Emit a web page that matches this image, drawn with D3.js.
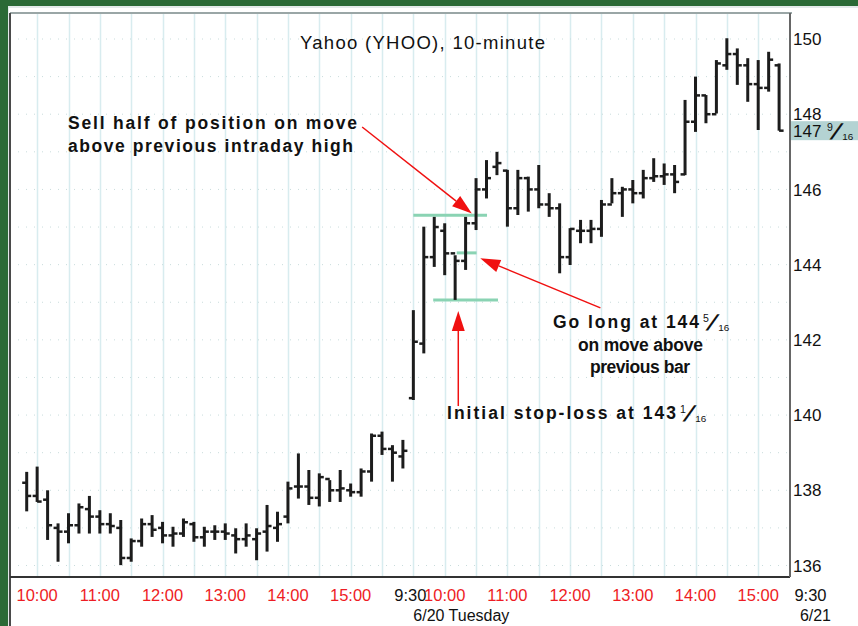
<!DOCTYPE html>
<html>
<head>
<meta charset="utf-8">
<title>Yahoo (YHOO), 10-minute</title>
<style>
  html, body {margin:0;padding:0;overflow:hidden;background:#fff;}
  svg {display:block;font-family:"Liberation Sans", Arial, sans-serif;}
</style>
</head>
<body>
<div id="chart"></div>
<script src="https://cdnjs.cloudflare.com/ajax/libs/d3/7.8.5/d3.min.js"></script>
<script>
// 10-minute bars. index 0 = 6/20 9:50, index 37 = 6/21 9:30, index 72 = 6/21 15:20
var opens = [
  138.2, 137.85, 137.75, 137.0, 136.9, 137.07, 137.5, 137.3, 137.1, 137.0,
  136.2, 136.65, 137.1, 137.0, 136.8, 136.85, 137.1, 136.75, 136.9, 136.9,
  136.8, 136.7, 136.7, 136.9, 137.0, 137.3, 138.1, 138.1, 137.8, 138.3,
  138.0, 138.0, 137.95, 138.5, 139.45, 139.1, 138.9,
  140.45, 141.9, 144.2, 144.9, 144.3, 144.1, 145.1, 146.0, 146.6, 146.5,
  145.5, 146.3, 146.0, 145.6, 145.5, 144.2, 144.9, 144.9, 144.95, 145.6,
  145.9, 146.0, 145.9, 146.3, 146.35, 146.4, 146.4, 147.8, 148.5, 148.0,
  149.3, 149.6, 149.3, 148.8, 148.7, 149.3
];
var highs = [
  138.49, 138.63, 138.0, 137.12, 137.39, 137.65, 137.85, 137.47, 137.39, 137.21,
  136.72, 137.25, 137.34, 137.16, 137.03, 137.25, 137.16, 137.03, 137.07, 137.12,
  136.99, 137.12, 136.99, 137.61, 137.43, 138.23, 138.98, 138.54, 138.45, 138.27,
  138.54, 138.18, 138.58, 139.51, 139.56, 139.2, 139.34,
  142.79, 145.01, 145.27, 145.1, 144.25, 145.27, 146.3, 146.78, 147.0, 146.52,
  146.52, 146.34, 146.65, 145.9, 145.63, 144.97, 145.19, 145.19, 145.72, 146.3,
  146.07, 146.25, 146.52, 146.83, 146.69, 146.65, 148.38, 149.0, 148.51, 149.44,
  150.02, 149.75, 149.49, 149.44, 149.66, 149.35
];
var lows = [
  137.44, 137.69, 136.68, 136.1, 136.59, 136.85, 136.85, 136.85, 136.85, 136.01,
  136.1, 136.5, 136.76, 136.59, 136.5, 136.76, 136.63, 136.5, 136.68, 136.68,
  136.32, 136.5, 136.14, 136.37, 136.63, 137.12, 137.78, 137.61, 137.57, 137.69,
  137.69, 137.83, 137.83, 138.23, 138.94, 138.23, 138.58,
  140.4, 141.64, 143.94, 143.72, 143.0625, 143.86, 144.92, 145.76, 146.38, 145.01,
  145.32, 145.41, 145.5, 145.27, 143.77, 143.99, 144.57, 144.57, 144.74, 145.63,
  145.27, 145.63, 145.76, 146.2, 146.12, 145.9, 146.38, 147.53, 147.76, 148.02,
  149.18, 148.78, 148.33, 147.58, 148.6, 147.5625
];
var closes = [
  137.85, 137.7, 137.07, 136.9, 137.07, 137.55, 137.3, 137.1, 137.05, 136.2,
  136.65, 137.1, 136.95, 136.8, 136.85, 137.15, 136.75, 136.9, 136.9, 136.85,
  136.7, 136.8, 136.85, 137.05, 137.1, 138.05, 138.1, 137.8, 138.35, 138.0,
  138.05, 137.95, 138.5, 139.45, 139.1, 139.0, 139.05,
  141.95, 144.2, 145.0, 144.3, 144.1, 145.1, 146.0, 146.3, 146.7, 145.5,
  146.3, 146.0, 145.6, 145.5, 144.2, 144.95, 144.9, 144.95, 145.6, 145.9,
  146.0, 145.9, 146.3, 146.35, 146.4, 146.2, 147.8, 148.5, 148.0, 149.35,
  149.6, 149.3, 148.8, 148.7, 149.45, 147.5625
];

var timeIdx    = [1, 7, 13, 19, 25, 31, 37, 40, 46, 52, 58, 64, 70, 75];
var timeLabels = ["10:00", "11:00", "12:00", "13:00", "14:00", "15:00", "9:30",
                  "10:00", "11:00", "12:00", "13:00", "14:00", "15:00", "9:30"];
var sessionIdx = [37, 75];
var dateLabels = ["6/20 Tuesday", "6/21"];

var priceTicks = [136, 138, 140, 142, 144, 146, 148, 150];
var lastPrice = 147.5625;

// trade levels: sell-half trigger, entry, initial stop
var levelValues = [145.3125, 144.3125, 143.0625];
var levelFrom   = [37.0, 41.15, 38.9];
var levelTo     = [44.05, 43.05, 45.1];

var width = 858, height = 626;
var plotLeft = 10, plotRight = 790, plotTop = 13, plotBottom = 577;

var svg = d3.select("#chart").append("svg")
    .attr("width", width)
    .attr("height", height);

var x = d3.scaleLinear().domain([0, 72]).range([26.7, 779.1]);
var y = d3.scaleLinear().domain([136, 150]).range([565.5, 39]);

var bars = d3.range(opens.length).map(function(i) {
  return {i: i, o: opens[i], h: highs[i], l: lows[i], c: closes[i]};
});

// frame
svg.append("rect").attr("width", width).attr("height", height).attr("fill", "#2b6a36");
svg.append("rect").attr("x", 8).attr("y", 6).attr("width", width - 8).attr("height", height - 6)
    .attr("fill", "#e4eaea");
svg.append("rect").attr("x", 9).attr("y", 8).attr("width", width - 9).attr("height", height - 8)
    .attr("fill", "#fff");

// grid
var grid = svg.append("g");
grid.selectAll(".vgrid")
    .data(d3.range(1, 73, 3))
  .enter().append("line")
    .attr("x1", function(d) { return Math.round(x(d)) + 0.5; })
    .attr("x2", function(d) { return Math.round(x(d)) + 0.5; })
    .attr("y1", plotTop).attr("y2", plotBottom)
    .attr("stroke", "#d8ecef").attr("stroke-width", 1.5);
grid.selectAll(".hgrid")
    .data(d3.range(136, 151))
  .enter().append("line")
    .attr("x1", plotLeft).attr("x2", plotRight)
    .attr("y1", function(d) { return y(d); })
    .attr("y2", function(d) { return y(d); })
    .attr("stroke", "#c9dcdc").attr("stroke-dasharray", "1,7");

// axes lines
svg.append("line").attr("x1", plotLeft).attr("x2", plotRight + 2)
    .attr("y1", plotTop).attr("y2", plotTop).attr("stroke", "#9aa6a6").attr("stroke-width", 2);
svg.append("line").attr("x1", plotLeft).attr("x2", plotLeft)
    .attr("y1", plotTop).attr("y2", height).attr("stroke", "#4a4a4a").attr("stroke-width", 2);
svg.append("line").attr("x1", plotLeft).attr("x2", plotRight)
    .attr("y1", plotBottom).attr("y2", plotBottom).attr("stroke", "#333").attr("stroke-width", 2);
svg.append("line").attr("x1", plotRight).attr("x2", plotRight)
    .attr("y1", plotTop).attr("y2", plotBottom).attr("stroke", "#666").attr("stroke-width", 2);

// fraction: small raised numerator, big slash, small lowered denominator
function fraction(x0, y0, num, den, size) {
  var f = svg.append("g").attr("fill", "#111");
  f.append("text").attr("x", x0).attr("y", y0 - 6).attr("font-size", size * 0.66).text(num);
  f.append("text").attr("x", x0 + size * 0.22).attr("y", y0 + 2)
      .attr("font-size", size * 1.35).attr("font-weight", "bold")
      .attr("transform", "skewX(-28)").attr("transform-origin", (x0 + size * 0.5) + "px " + y0 + "px")
      .text("/");
  f.append("text").attr("x", x0 + size * 0.95).attr("y", y0 + 3).attr("font-size", size * 0.62).text(den);
}

// right price axis
var yAxis = svg.append("g");
yAxis.selectAll("text")
    .data(priceTicks)
  .enter().append("text")
    .attr("x", 793)
    .attr("y", function(d) { return y(d); })
    .attr("dy", "0.36em")
    .attr("font-size", 17)
    .attr("fill", "#111")
    .text(function(d) { return d; });

// last price flag
svg.append("rect")
    .attr("x", plotRight + 1).attr("y", y(lastPrice) - 9.5)
    .attr("width", width - plotRight).attr("height", 19)
    .attr("fill", "#b4d3d3");
svg.append("text")
    .attr("x", 793).attr("y", y(lastPrice)).attr("dy", "0.36em")
    .attr("font-size", 17).attr("fill", "#111")
    .text(Math.floor(lastPrice));
fraction(827, y(lastPrice) + 6, "9", "16", 16);

// time axis
var xAxis = svg.append("g");
xAxis.selectAll("text")
    .data(timeIdx)
  .enter().append("text")
    .attr("x", function(d, i) { return i === 6 ? x(d) - 3 : x(d); })
    .attr("y", 601)
    .attr("text-anchor", "middle")
    .attr("font-size", 16.5)
    .attr("fill", function(d) { return sessionIdx.indexOf(d) >= 0 ? "#111" : "#ee1c24"; })
    .text(function(d, i) { return timeLabels[i]; });
xAxis.selectAll(".date")
    .data(dateLabels)
  .enter().append("text")
    .attr("x", function(d, i) { return i === 0 ? x(sessionIdx[0]) + 48 : x(sessionIdx[1]) + 5; })
    .attr("y", 621)
    .attr("text-anchor", "middle")
    .attr("font-size", 16)
    .attr("fill", "#111")
    .text(function(d) { return d; });

// trade levels
svg.append("g").selectAll("line")
    .data(levelValues)
  .enter().append("line")
    .attr("x1", function(d, i) { return x(levelFrom[i]); })
    .attr("x2", function(d, i) { return x(levelTo[i]); })
    .attr("y1", function(d) { return y(d); })
    .attr("y2", function(d) { return y(d); })
    .attr("stroke", "#8ad3b3").attr("stroke-width", 3);

// OHLC bars
var g = svg.append("g").attr("stroke", "#1c1c1c");
var bar = g.selectAll(".bar")
    .data(bars)
  .enter().append("g")
    .attr("class", "bar");
bar.append("line")
    .attr("x1", function(d) { return x(d.i); })
    .attr("x2", function(d) { return x(d.i); })
    .attr("y1", function(d) { return y(d.h); })
    .attr("y2", function(d) { return y(d.l); })
    .attr("stroke-width", 3);
bar.append("line")
    .attr("x1", function(d) { return x(d.i) - 4.5; })
    .attr("x2", function(d) { return x(d.i); })
    .attr("y1", function(d) { return y(d.o); })
    .attr("y2", function(d) { return y(d.o); })
    .attr("stroke-width", 2.5);
bar.append("line")
    .attr("x1", function(d) { return x(d.i); })
    .attr("x2", function(d) { return x(d.i) + 4.5; })
    .attr("y1", function(d) { return y(d.c); })
    .attr("y2", function(d) { return y(d.c); })
    .attr("stroke-width", 2.5);

// title
svg.append("text")
    .attr("x", 300).attr("y", 49)
    .attr("font-size", 18.5)
    .attr("textLength", 245).attr("lengthAdjust", "spacing")
    .attr("fill", "#111")
    .text("Yahoo (YHOO), 10-minute");

// annotations
function arrow(x1, y1, x2, y2) {
  var a = Math.atan2(y2 - y1, x2 - x1), len = 20, w = 6.5;
  var bx = x2 - len * Math.cos(a), by = y2 - len * Math.sin(a);
  svg.append("line")
      .attr("x1", x1).attr("y1", y1).attr("x2", bx).attr("y2", by)
      .attr("stroke", "#f01010").attr("stroke-width", 1.5);
  svg.append("path")
      .attr("d", "M" + x2 + "," + y2 +
                 "L" + (bx + w * Math.sin(a)) + "," + (by - w * Math.cos(a)) +
                 "L" + (bx - w * Math.sin(a)) + "," + (by + w * Math.cos(a)) + "Z")
      .attr("fill", "#f01010");
}

// text line stretched to the width it has in the chart
function label(str, x0, y0, len) {
  return svg.append("text")
      .attr("x", x0).attr("y", y0)
      .attr("font-size", 17.5).attr("font-weight", "bold").attr("fill", "#111")
      .attr("textLength", len).attr("lengthAdjust", "spacing")
      .text(str);
}

label("Sell half of position on move", 68, 129, 289);
label("above previous intraday high", 68, 152, 285);
arrow(x(32.1), y(147.66), x(42.6), y(145.36));

label("Go long at 144", 553, 328, 146);
fraction(703, 328, "5", "16", 16);
label("on move above", 578, 351, 125);
label("previous bar", 590, 373, 100);
arrow(x(54.9), y(142.85), x(43.4), y(144.17));

label("Initial stop-loss at 143", 447, 419, 229);
fraction(680, 419, "1", "16", 16);
arrow(x(41.3), y(140.24), x(41.3), y(142.77));
</script>
</body>
</html>
